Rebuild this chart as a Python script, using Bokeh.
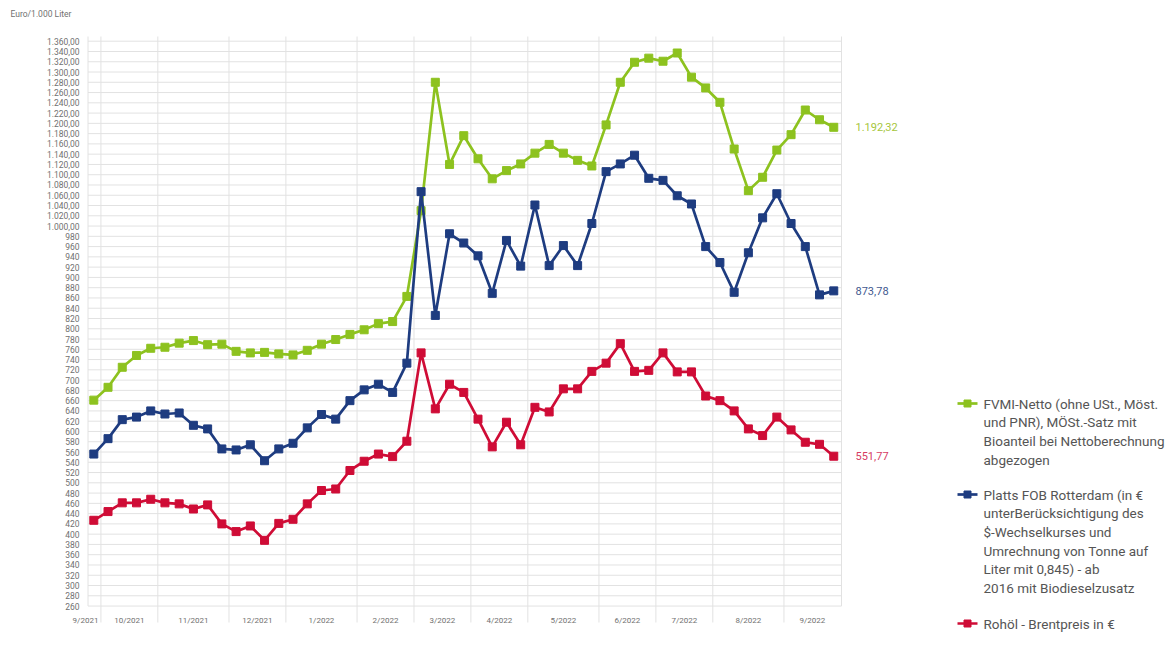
import numpy as np
from bokeh.plotting import figure
from bokeh.models import FixedTicker, Range1d
from bokeh.core.properties import value
from bokeh.embed import file_html
from bokeh.resources import INLINE

# ---------------- data ----------------
month_labels = ["9/2021", "10/2021", "11/2021", "12/2021", "1/2022", "2/2022",
                "3/2022", "4/2022", "5/2022", "6/2022", "7/2022", "8/2022", "9/2022"]
weeks_per_month = [1, 4, 5, 4, 5, 4, 4, 4, 5, 4, 4, 5, 4]

fvmi = [661, 686, 725, 748, 762, 764, 772, 777, 769, 770, 756, 753, 754, 751, 749,
        758, 770, 779, 789, 798, 810, 814, 863, 1030, 1280, 1120, 1176, 1131, 1092,
        1108, 1121, 1142, 1159, 1142, 1128, 1117, 1197, 1280, 1319, 1327, 1321, 1337,
        1290, 1269, 1241, 1150, 1069, 1095, 1148, 1178, 1226, 1207, 1192.32]
platts = [556, 586, 623, 628, 640, 634, 636, 612, 605, 566, 564, 574, 543, 566, 577,
          607, 633, 624, 660, 681, 692, 676, 733, 1067, 826, 985, 967, 942, 869, 972,
          922, 1041, 923, 962, 923, 1005, 1106, 1121, 1138, 1093, 1089, 1059, 1043,
          960, 929, 871, 948, 1016, 1063, 1005, 960, 866, 873.78]
brent = [427, 444, 461, 461, 468, 461, 459, 449, 457, 420, 405, 416, 388, 421, 429,
         459, 485, 488, 524, 542, 556, 551, 581, 753, 644, 692, 676, 624, 570, 618,
         574, 647, 638, 683, 683, 717, 733, 771, 717, 719, 753, 716, 716, 669, 660,
         640, 605, 592, 628, 603, 579, 575, 551.77]

last_labels = ["1.192,32", "873,78", "551,77"]
legend_texts = [
    ["FVMI-Netto (ohne USt., Möst.", "und PNR), MÖSt.-Satz mit",
     "Bioanteil bei Nettoberechnung", "abgezogen"],
    ["Platts FOB Rotterdam (in €", "unterBerücksichtigung des",
     "$-Wechselkurses und", "Umrechnung von Tonne auf",
     "Liter mit 0,845) - ab", "2016 mit Biodieselzusatz"],
    ["Rohöl - Brentpreis in €"],
]
y_ticks = list(range(260, 1361, 20))
y_label_title = "Euro/1.000 Liter"

# ---------------- styling / layout ----------------
GREEN = "#8dc21f"
BLUE = "#1e3c80"
RED = "#cf0c36"
GREEN_T = "#a6c63c"
BLUE_T = "#42598f"
RED_T = "#d63c63"
GRID = "#e2e2e2"
TXT = "#707070"
LEG = "#555555"
FONT = "Roboto"

# page-pixel geometry of the reference (used only for layout placement)
X0_PX, DX_PX = 93.3, 14.23       # page x of week 0 and px per week
Y1360_PX, DY_PX = 40.7, 0.5135   # page y of 1360 and px per unit


def px_x(px):
    return (px - X0_PX) / DX_PX


def px_y(py):
    return 1360 - (py - Y1360_PX) / DY_PX


FRAME_L, FRAME_T, FRAME_B = 70, 24, 636
W, H = 1166, 640
p = figure(width=W, height=H, output_backend="svg", toolbar_location=None,
           x_axis_location=None,
           x_range=Range1d(px_x(FRAME_L), px_x(W)),
           y_range=Range1d(px_y(FRAME_B), px_y(FRAME_T)),
           min_border_left=FRAME_L, min_border_right=0, min_border_top=FRAME_T,
           min_border_bottom=H - FRAME_B)
p.outline_line_color = None
p.xgrid.visible = False
p.ygrid.visible = False
p.background_fill_color = "white"
p.border_fill_color = "white"

p.title.text = y_label_title
p.title.align = "left"
p.title.offset = 10 - FRAME_L
p.title.standoff = 12
p.title.text_font = FONT
p.title.text_font_size = "8.5px"
p.title.text_font_style = "normal"
p.title.text_color = TXT

ax = p.yaxis[0]
ax.ticker = FixedTicker(ticks=y_ticks)


def fmt(v):
    if v >= 1000:
        return f"{v // 1000}.{v % 1000:03d},00"
    return str(v)


ax.major_label_overrides = {t: fmt(t) for t in y_ticks}
ax.axis_line_color = None
ax.major_tick_line_color = None
ax.minor_tick_line_color = None
ax.major_tick_out = 0
ax.major_tick_in = 0
ax.major_label_standoff = FRAME_L - 79   # labels end at x=79, left of the grid
ax.major_label_text_font = FONT
ax.major_label_text_font_size = "8.5px"
ax.major_label_text_color = TXT

n = len(fvmi)
x = np.arange(n)
left_edge = px_x(87.5)
right_edge = px_x(841)
top_edge = px_y(36)

# horizontal grid lines
p.segment(x0=[left_edge] * len(y_ticks), x1=[right_edge] * len(y_ticks),
          y0=y_ticks, y1=y_ticks, line_color=GRID, line_width=1)

# vertical month boundaries
cum = np.cumsum(weeks_per_month)
bounds = (cum[:-1] - 0.5).tolist()
p.segment(x0=bounds, x1=bounds, y0=[px_y(622)] * len(bounds),
          y1=[top_edge] * len(bounds), line_color=GRID, line_width=1)
# frame borders
p.segment(x0=[left_edge, right_edge], x1=[left_edge, right_edge],
          y0=[y_ticks[0]] * 2, y1=[top_edge] * 2, line_color=GRID, line_width=1)

# month labels
starts = np.concatenate([[0], cum[:-1]])
centers = (starts + (np.array(weeks_per_month) - 1) / 2).tolist()
centers[0] = px_x(85)
p.text(x=centers, y=[px_y(620)] * len(centers), text=month_labels,
       text_align="center", text_baseline="middle", text_font=value(FONT),
       text_font_size="8px", text_color=TXT)

# series
for ys, col in [(fvmi, GREEN), (platts, BLUE), (brent, RED)]:
    p.line(x, ys, line_color=col, line_width=2.7)
    p.scatter(x, ys, marker="square", size=8, fill_color=col, line_color=col)

# end value labels
p.text(x=[px_x(855)] * 3, y=[fvmi[-1], platts[-1], brent[-1]], text=last_labels,
       text_align="left", text_baseline="middle", text_font=value(FONT),
       text_font_size="11px", text_color=[GREEN_T, BLUE_T, RED_T])

# legend
leg_y0 = [403, 494, 623]
line_gap = 18.7
for texts, col, y0 in zip(legend_texts, [GREEN, BLUE, RED], leg_y0):
    yy = px_y(y0)
    p.line([px_x(957), px_x(977)], [yy, yy], line_color=col, line_width=2.7)
    p.scatter([px_x(967)], [yy], marker="square", size=7, fill_color=col,
              line_color=col)
    ys = [px_y(y0 + k * line_gap) for k in range(len(texts))]
    p.text(x=[px_x(983)] * len(texts), y=ys, text=texts, text_align="left",
           text_baseline="middle", text_font=value(FONT), text_font_size="13.5px",
           text_color=LEG)

open("out.html", "w").write(file_html(p, INLINE))
